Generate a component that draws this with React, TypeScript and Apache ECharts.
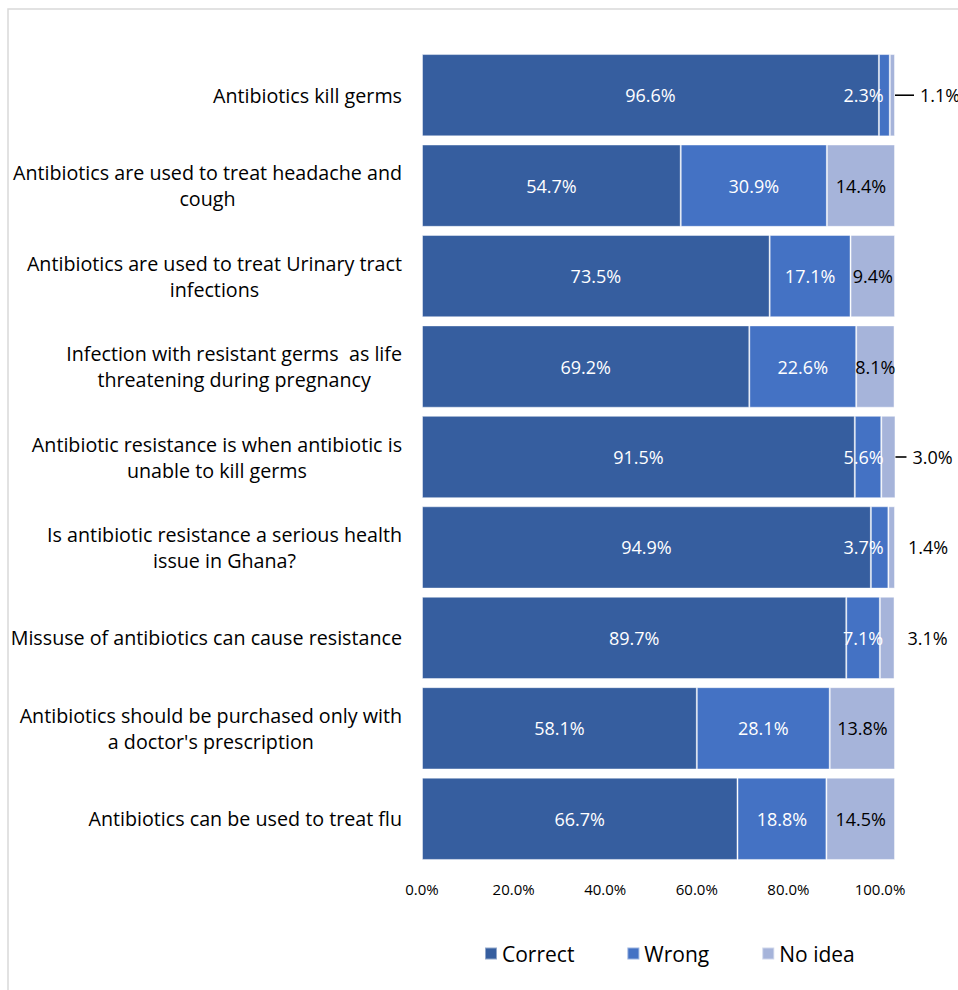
import React, { useEffect, useRef } from "react";
import * as echarts from "echarts";

const categories = [
  "Antibiotics kill germs",
  "Antibiotics are used to treat headache and\ncough",
  "Antibiotics are used to treat Urinary tract\ninfections",
  "Infection with resistant germs  as life\nthreatening during pregnancy",
  "Antibiotic resistance is when antibiotic is\nunable to kill germs",
  "Is antibiotic resistance a serious health\nissue in Ghana?",
  "Missuse of antibiotics can cause resistance",
  "Antibiotics should be purchased only with\na doctor's prescription",
  "Antibiotics can be used to treat flu",
];
const correct = [96.6, 54.7, 73.5, 69.2, 91.5, 94.9, 89.7, 58.1, 66.7];
const wrong = [2.3, 30.9, 17.1, 22.6, 5.6, 3.7, 7.1, 28.1, 18.8];
const noIdea = [1.1, 14.4, 9.4, 8.1, 3.0, 1.4, 3.1, 13.8, 14.5];
// which small "No idea" labels sit outside the bar, and the length of their leader line (0 = none)
const outsideLabel = [true, false, false, false, true, true, true, false, false];
const leaderLength = [19, 0, 0, 0, 11, 0, 0, 0, 0];
const xTicks = [0, 20, 40, 60, 80, 100];

const GRID_LEFT = 422;
const GRID_RIGHT = 63;
const W = 958;
const H = 990;
const PX = (W - GRID_LEFT - GRID_RIGHT) / 100;
const FONT = "'Open Sans', 'DejaVu Sans', sans-serif";

export default function App() {
  const ref = useRef<HTMLDivElement>(null);
  useEffect(() => {
    document.body.style.margin = "0";
    if (!ref.current) return;
    const chart = echarts.init(ref.current, null, { renderer: "svg" });
    const fmt = (v: number) => v.toFixed(1) + "%";
    const labelLimit = 884;
    const wrongData = wrong.map((v, i) => {
      const center = GRID_LEFT + (correct[i] + v / 2) * PX;
      const half = 20.5;
      const dx = center + half > labelLimit ? labelLimit - half - center : 0;
      return { value: v, label: { offset: [dx, 0] } };
    });
    const noIdeaData = noIdea.map((v, i) => {
      if (!outsideLabel[i]) return { value: v };
      const len = leaderLength[i];
      return {
        value: v,
        label: {
          position: "right",
          distance: len ? 0 : 13,
          formatter: len ? "{l| }{t|" + fmt(v) + "}" : fmt(v),
          rich: {
            l: { width: len, height: 1.6, backgroundColor: "#000" },
            t: { fontSize: 18, color: "#000", fontFamily: FONT, padding: [0, 0, 0, 6] },
          },
        },
      };
    });
    // tick labels in the reference drift slightly left of their ticks
    const tickRich: any = {};
    xTicks.forEach((t, k) => {
      tickRich["p" + k] = { fontSize: 15, color: "#000", fontFamily: FONT, padding: [0, t * 0.3, 0, 0] };
    });
    const option: any = {
      animation: false,
      textStyle: { fontFamily: FONT },
      graphic: [
        {
          type: "rect",
          shape: { x: 8, y: 9, width: 1200, height: 1200 },
          style: { fill: "none", stroke: "#d9d9d9", lineWidth: 1.5 },
          silent: true,
        },
      ],
      grid: { left: GRID_LEFT, right: GRID_RIGHT, top: 50, bottom: H - 864, containLabel: false },
      legend: {
        left: 479,
        top: 938,
        itemWidth: 12,
        itemHeight: 12,
        itemGap: 52,
        icon: "rect",
        textStyle: { fontSize: 21, color: "#000", fontFamily: FONT },
        data: ["Correct", "Wrong", "No idea"],
      },
      xAxis: {
        type: "value",
        min: 0,
        max: 100,
        interval: 20,
        axisLine: { show: false },
        axisTick: { show: false },
        splitLine: { show: false },
        axisLabel: {
          color: "#000",
          margin: 17,
          rich: tickRich,
          formatter: (v: number) => {
            const k = xTicks.indexOf(v);
            return k < 0 ? "" : "{p" + k + "|" + v.toFixed(1) + "%}";
          },
        },
      },
      yAxis: {
        type: "category",
        data: categories,
        inverse: true,
        axisLine: { show: false },
        axisTick: { show: false },
        axisLabel: {
          color: "#000",
          margin: 20,
          align: "right",
          formatter: (v: string) => v.split("\n").map((l) => "{c|" + l + "}").join("\n"),
          rich: {
            c: { fontSize: 19.7, color: "#000", fontFamily: FONT, lineHeight: 26, align: "center" },
          },
        },
      },
      series: [
        {
          name: "Correct",
          type: "bar",
          stack: "s",
          barCategoryGap: "9%",
          data: correct,
          itemStyle: { color: "#365E9F", borderColor: "rgba(255,255,255,0.45)", borderWidth: 1 },
          label: { show: true, position: "inside", color: "#fff", fontSize: 18, formatter: (p: any) => fmt(p.value) },
        },
        {
          name: "Wrong",
          type: "bar",
          stack: "s",
          data: wrongData,
          itemStyle: { color: "#4472C4", borderColor: "rgba(255,255,255,0.45)", borderWidth: 1 },
          label: { show: true, position: "inside", color: "#fff", fontSize: 18, formatter: (p: any) => fmt(p.value) },
        },
        {
          name: "No idea",
          type: "bar",
          stack: "s",
          data: noIdeaData,
          itemStyle: { color: "#A6B4DA", borderColor: "rgba(255,255,255,0.45)", borderWidth: 1 },
          label: { show: true, position: "inside", color: "#000", fontSize: 18, formatter: (p: any) => fmt(p.value) },
        },
      ],
    };
    chart.setOption(option);
    return () => chart.dispose();
  }, []);
  return <div ref={ref} style={{ width: W, height: H }} />;
}
